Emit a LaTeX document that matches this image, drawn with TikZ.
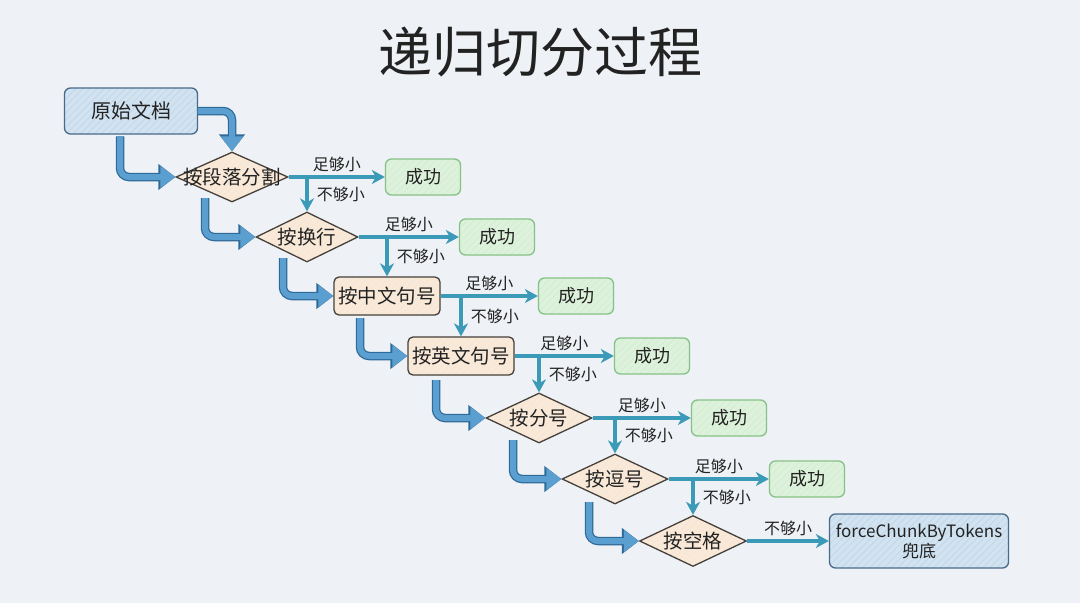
\documentclass[tikz,border=0pt]{standalone}
\usepackage{fontspec}
\setmainfont{Noto Sans CJK SC}
\usepackage{tikz}
\usetikzlibrary{arrows.meta,shapes.geometric,calc,patterns.meta}
\definecolor{cBg}{HTML}{EEF1F5}
\definecolor{cInk}{HTML}{222222}
\definecolor{cDocFill}{HTML}{CFE3F3}
\definecolor{cDocEdge}{HTML}{4A6A8A}
\definecolor{cStepFill}{HTML}{FBE9D5}
\definecolor{cStepEdge}{HTML}{45403A}
\definecolor{cOkFill}{HTML}{DDF2DA}
\definecolor{cOkEdge}{HTML}{86C287}
\definecolor{cFat}{HTML}{5A9FD0}
\definecolor{cFatEdge}{HTML}{2E6A99}
\definecolor{cTeal}{HTML}{3B9AB8}
\tikzset{
  box/.style    = {rounded corners=6pt, align=center, inner sep=2pt, line width=1.3pt,
                   text=cInk, font=\fontsize{20}{23}\selectfont},
  hatch/.style  = {pattern={Lines[angle=45,distance=5pt,line width=0.6pt]}, pattern color=#1},
  doc/.style    = {box, draw=cDocEdge, preaction={fill=cDocFill}, hatch=cDocEdge!30},
  stepbox/.style= {box, draw=cStepEdge, preaction={fill=cStepFill}, hatch=cStepEdge!12,
                   minimum width=106pt, minimum height=38pt, rounded corners=5pt,
                   font=\fontsize{19.5}{22}\selectfont},
  dia/.style    = {diamond, draw=cStepEdge, line width=1.3pt, preaction={fill=cStepFill},
                   hatch=cStepEdge!12, inner sep=0pt, minimum height=50pt},
  dtext/.style  = {text=cInk, font=\fontsize{19.5}{22}\selectfont},
  ok/.style     = {box, draw=cOkEdge, preaction={fill=cOkFill}, hatch=cOkEdge!35,
                   minimum width=75pt, minimum height=36pt, font=\fontsize{18}{21}\selectfont},
  flow/.style   = {-{Stealth[length=13pt,width=14pt,inset=4pt]}, line width=3.8pt, draw=cTeal},
  fat/.style    = {draw=cFat, line width=6pt, rounded corners=9pt,
                   -{Triangle[length=15pt,width=21pt]},
                   preaction={draw=cFatEdge, line width=8.5pt,
                              -{Triangle[length=17pt,width=25pt]}}},
  lbl/.style    = {text=cInk, font=\fontsize{16}{18}\selectfont, inner sep=1pt},
}
\begin{document}
\begin{tikzpicture}[x=1pt,y=-1pt]
  \fill[cBg] (0,0) rectangle (1080,603);
  \useasboundingbox (0,0) rectangle (1080,603);
  \node[text=cInk, font=\fontsize{54}{60}\selectfont] (title) at (540,52) {递归切分过程};

  \node[doc, minimum width=133pt, minimum height=46pt] (doc) at (131,111) {原始文档};
  \node[dia, minimum width=112pt, label={[dtext]center:按段落分割}] (d1) at (232,177) {};
  \node[dia, minimum width=102pt, label={[dtext]center:按换行}] (d2) at (307,237) {};
  \node[stepbox] (r3) at (387,296) {按中文句号};
  \node[stepbox] (r4) at (461,356) {按英文句号};
  \node[dia, minimum width=106pt, label={[dtext]center:按分号}] (d5) at (539,418) {};
  \node[dia, minimum width=106pt, label={[dtext]center:按逗号}] (d6) at (615,479) {};
  \node[dia, minimum width=107pt, minimum height=51pt, label={[dtext]center:按空格}] (d7) at (693,541) {};
  \node[doc, minimum width=179pt, minimum height=54pt, font=\fontsize{17}{20}\selectfont]
    (force) at (919,541) {forceChunkByTokens\\兜底};

  \node[ok] (ok1) at (423,177) {成功};
  \node[ok] (ok2) at (497,237) {成功};
  \node[ok] (ok3) at (576,296) {成功};
  \node[ok] (ok4) at (652,356) {成功};
  \node[ok] (ok5) at (729,418) {成功};
  \node[ok] (ok6) at (807,479) {成功};

  \draw[fat] (doc.east) -| (d1.north);
  \draw[fat] ($(doc.south)+(-11,2)$) |- (d1.west);
  \draw[fat] ($(d1)+(-27,21)$) |- (d2.west);
  \draw[fat] ($(d2)+(-24,21)$) |- (r3.west);
  \draw[fat] ($(r3)+(-27,22)$) |- (r4.west);
  \draw[fat] ($(r4)+(-25,24)$) |- (d5.west);
  \draw[fat] ($(d5)+(-26,22)$) |- (d6.west);
  \draw[fat] ($(d6)+(-26,23)$) |- (d7.west);

  \draw[flow] (d1.east) -- node[lbl, above=2pt] {足够小} (ok1.west);
  \draw[flow] (d1.east -| d2.north) -- node[lbl, right=7pt] {不够小} (d2.north);
  \draw[flow] (d2.east) -- node[lbl, above=2pt] {足够小} (ok2.west);
  \draw[flow] (d2.east -| r3.north) -- node[lbl, right=7pt] {不够小} (r3.north);
  \draw[flow] (r3.east) -- node[lbl, above=2pt] {足够小} (ok3.west);
  \draw[flow] (r3.east -| r4.north) -- node[lbl, right=7pt] {不够小} (r4.north);
  \draw[flow] (r4.east) -- node[lbl, above=2pt] {足够小} (ok4.west);
  \draw[flow] (r4.east -| d5.north) -- node[lbl, right=7pt] {不够小} (d5.north);
  \draw[flow] (d5.east) -- node[lbl, above=2pt] {足够小} (ok5.west);
  \draw[flow] (d5.east -| d6.north) -- node[lbl, right=7pt] {不够小} (d6.north);
  \draw[flow] (d6.east) -- node[lbl, above=2pt] {足够小} (ok6.west);
  \draw[flow] (d6.east -| d7.north) -- node[lbl, right=7pt] {不够小} (d7.north);
  \draw[flow] (d7.east) -- node[lbl, above=2pt] {不够小} (force.west);
\end{tikzpicture}
\end{document}
